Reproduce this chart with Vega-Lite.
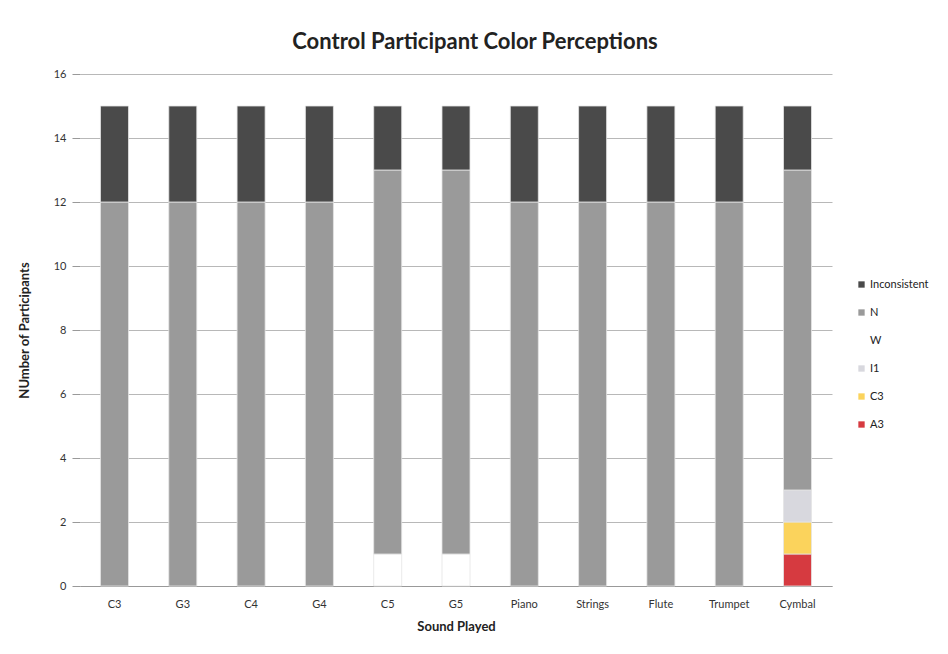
{
  "$schema": "https://vega.github.io/schema/vega-lite/v6.json",
  "autosize": "none",
  "width": 752,
  "height": 512,
  "padding": {"left": 80, "top": 74, "right": 116, "bottom": 68},
  "background": "white",
  "title": {
    "text": "Control Participant Color Perceptions",
    "font": "Lato",
    "fontSize": 22,
    "fontWeight": "bold",
    "color": "#222",
    "anchor": "middle",
    "dx": 19,
    "offset": 14
  },
  "data": {
    "values": [
      {"sound": "C3", "response": "N", "level": 5, "count": 12},
      {"sound": "C3", "response": "Inconsistent", "level": 6, "count": 3},
      {"sound": "G3", "response": "N", "level": 5, "count": 12},
      {"sound": "G3", "response": "Inconsistent", "level": 6, "count": 3},
      {"sound": "C4", "response": "N", "level": 5, "count": 12},
      {"sound": "C4", "response": "Inconsistent", "level": 6, "count": 3},
      {"sound": "G4", "response": "N", "level": 5, "count": 12},
      {"sound": "G4", "response": "Inconsistent", "level": 6, "count": 3},
      {"sound": "C5", "response": "W", "level": 4, "count": 1},
      {"sound": "C5", "response": "N", "level": 5, "count": 12},
      {"sound": "C5", "response": "Inconsistent", "level": 6, "count": 2},
      {"sound": "G5", "response": "W", "level": 4, "count": 1},
      {"sound": "G5", "response": "N", "level": 5, "count": 12},
      {"sound": "G5", "response": "Inconsistent", "level": 6, "count": 2},
      {"sound": "Piano", "response": "N", "level": 5, "count": 12},
      {"sound": "Piano", "response": "Inconsistent", "level": 6, "count": 3},
      {"sound": "Strings", "response": "N", "level": 5, "count": 12},
      {"sound": "Strings", "response": "Inconsistent", "level": 6, "count": 3},
      {"sound": "Flute", "response": "N", "level": 5, "count": 12},
      {"sound": "Flute", "response": "Inconsistent", "level": 6, "count": 3},
      {"sound": "Trumpet", "response": "N", "level": 5, "count": 12},
      {"sound": "Trumpet", "response": "Inconsistent", "level": 6, "count": 3},
      {"sound": "Cymbal", "response": "A3", "level": 1, "count": 1},
      {"sound": "Cymbal", "response": "C3", "level": 2, "count": 1},
      {"sound": "Cymbal", "response": "I1", "level": 3, "count": 1},
      {"sound": "Cymbal", "response": "N", "level": 5, "count": 10},
      {"sound": "Cymbal", "response": "Inconsistent", "level": 6, "count": 2}
    ]
  },
  "mark": {"type": "bar", "stroke": "#e4e4e4", "strokeWidth": 0.8},
  "encoding": {
    "x": {
      "field": "sound",
      "type": "nominal",
      "sort": ["C3", "G3", "C4", "G4", "C5", "G5", "Piano", "Strings", "Flute", "Trumpet", "Cymbal"],
      "title": "Sound Played",
      "scale": {"paddingInner": 0.59, "paddingOuter": 0.3},
      "axis": {
        "labelAngle": 0,
        "labelFont": "Lato",
        "labelFontSize": 11,
        "labelColor": "#333",
        "labelPadding": 12,
        "ticks": false,
        "domainColor": "#999",
        "titleFont": "Lato",
        "titleFontSize": 13,
        "titleFontWeight": "bold",
        "titleColor": "#222",
        "titlePadding": 11
      }
    },
    "y": {
      "field": "count",
      "type": "quantitative",
      "aggregate": "sum",
      "stack": "zero",
      "title": "NUmber of Participants",
      "scale": {"domain": [0, 16]},
      "axis": {
        "values": [0, 2, 4, 6, 8, 10, 12, 14, 16],
        "grid": true,
        "gridColor": "#b8b8b8",
        "gridWidth": 1,
        "domain": false,
        "tickColor": "#999",
        "tickSize": 8,
        "labelFont": "Lato",
        "labelFontSize": 11,
        "labelColor": "#333",
        "labelPadding": 6,
        "titleFont": "Lato",
        "titleFontSize": 13,
        "titleFontWeight": "bold",
        "titleColor": "#222",
        "titlePadding": 22
      }
    },
    "color": {
      "field": "response",
      "type": "nominal",
      "sort": ["Inconsistent", "N", "W", "I1", "C3", "A3"],
      "scale": {
        "domain": ["Inconsistent", "N", "W", "I1", "C3", "A3"],
        "range": ["#4a4a4a", "#9a9a9a", "#ffffff", "#d8d8de", "#fbd35c", "#d63a40"]
      },
      "legend": {
        "title": null,
        "orient": "none",
        "legendX": 776,
        "legendY": 205,
        "symbolType": "square",
        "symbolSize": 40,
        "symbolStrokeWidth": 0,
        "labelFont": "Lato",
        "labelFontSize": 11,
        "labelColor": "#222",
        "rowPadding": 16,
        "labelOffset": 3
      }
    },
    "order": {"field": "level", "type": "quantitative", "sort": "ascending"}
  },
  "config": {
    "view": {"stroke": null}
  }
}
